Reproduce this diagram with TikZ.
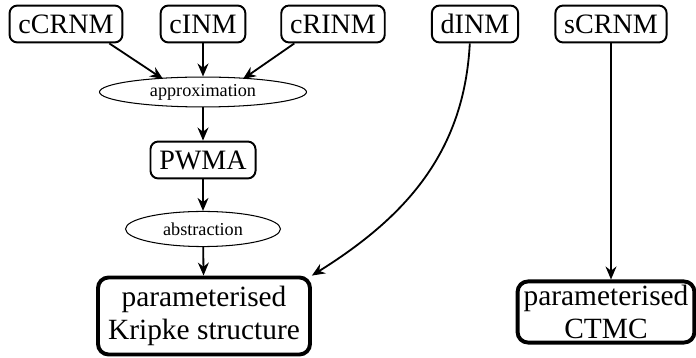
\documentclass[tikz,border=0pt]{standalone}
\IfFileExists{pplr8t.tfm}{\usepackage[T1]{fontenc}\renewcommand\rmdefault{ppl}}{\usepackage{fontspec}\setmainfont{Liberation Serif}}
\usetikzlibrary{shapes.geometric,arrows.meta}
\begin{document}
\begin{tikzpicture}[x=0.3846pt,y=-0.3846pt,
  src/.style={draw,rounded corners=3pt,line width=0.75pt,minimum height=14.2pt,inner xsep=3.4pt,inner ysep=0pt,font=\fontsize{10.8}{12}\selectfont},
  proc/.style={draw,ellipse,line width=0.4pt,inner sep=0pt,font=\fontsize{7}{9}\selectfont},
  res/.style={draw,rounded corners=4pt,line width=1.5pt,align=center,inner sep=0pt,font=\fontsize{11.3}{12.5}\selectfont},
  arr/.style={-{Stealth[length=5pt,width=4.2pt]},line width=0.7pt}]
\useasboundingbox (0,0) rectangle (696,358);
\node[src] (ccrnm) at (66,24) {cCRNM};
\node[src] (cinm) at (203,24) {cINM};
\node[src] (crinm) at (333,24) {cRINM};
\node[src] (dinm) at (475,24) {dINM};
\node[src] (scrnm) at (611,24) {sCRNM};
\node[proc,minimum width=79.6pt,minimum height=11.5pt] (approx) at (203,92) {approximation};
\node[src] (pwma) at (203,160) {PWMA};
\node[proc,minimum width=59.6pt,minimum height=13.5pt] (abstr) at (203,229) {abstraction};
\node[res,minimum width=81.5pt,minimum height=29.6pt] (kripke) at (204,316) {parameterised\\Kripke structure};
\node[res,minimum width=68pt,minimum height=23.5pt] (ctmc) at (606,312) {parameterised\\CTMC};
\coordinate (a1) at (163,79);
\coordinate (a2) at (243,79);
\draw[arr] ([xshift=-5.4pt]ccrnm.south east) -- (a1);
\draw[arr] (cinm) -- (approx);
\draw[arr] ([xshift=5.4pt]crinm.south west) -- (a2);
\draw[arr] (approx) -- (pwma);
\draw[arr] (pwma) -- (abstr);
\draw[arr] (abstr) -- (kripke);
\draw[arr] ([xshift=-2pt]dinm.south) to[out=-93,in=32] (kripke.north east);
\draw[arr] (scrnm) -- (scrnm |- ctmc.north);
\end{tikzpicture}
\end{document}
